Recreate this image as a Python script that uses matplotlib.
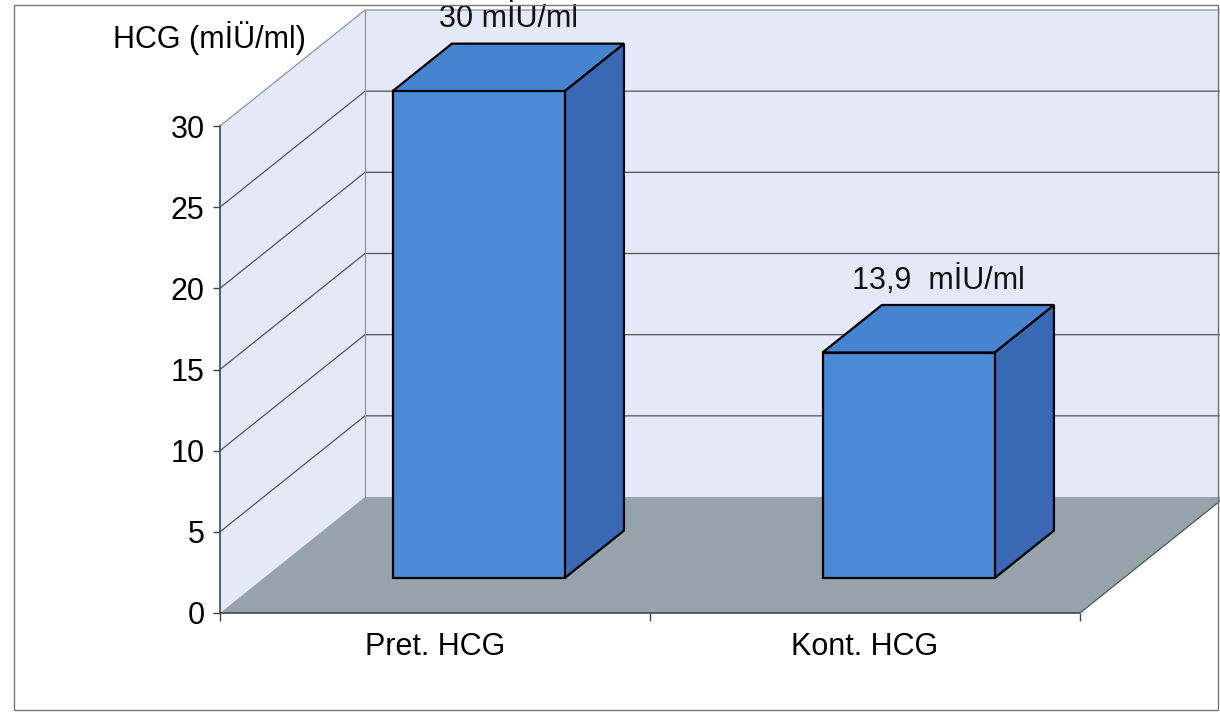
import matplotlib

matplotlib.use("Agg")
import matplotlib.pyplot as plt
from matplotlib.patches import Polygon, Rectangle

plt.rcParams["font.family"] = ["Liberation Sans", "DejaVu Sans"]

categories = ["Pret. HCG", "Kont. HCG"]
values = [30, 13.9]
value_labels = ["30 mİU/ml", "13,9  mİU/ml"]
y_ticks = [0, 5, 10, 15, 20, 25, 30]
y_title = "HCG (mİÜ/ml)"

W, H = 1220, 714
WALL = "#e5e9f7"
FLOOR = "#97a3ab"
GRID = "#50555c"
BAR_FRONT = "#4c8ad6"
BAR_TOP = "#4784d0"
BAR_SIDE = "#3a68b2"
FS = 22

# depth of the box in data units (categories on x, value on y)
DX = 145 / 430
DY = 116 / (487 / 30)
D0, D1 = 0.30, 0.71
BAR_W = 0.4


def proj(x, v, d):
    return (x + d * DX, v + d * DY)


fig = plt.figure(figsize=(W / 100, H / 100), dpi=100)
ax = fig.add_axes([220 / W, 101 / H, 860 / W, 487 / H])
n = len(categories)
top = y_ticks[-1]
ax.set_xlim(0, n)
ax.set_ylim(0, top)


def face(pts, fc, ec="none", lw=0, z=1):
    ax.add_patch(Polygon([proj(*p) for p in pts], closed=True, fc=fc, ec=ec,
                         lw=lw, zorder=z, clip_on=False, joinstyle="miter"))


def line(pts, color=GRID, lw=0.9, z=2):
    xs, ys = zip(*[proj(*p) for p in pts])
    ax.plot(xs, ys, color=color, lw=lw, zorder=z, clip_on=False,
            solid_capstyle="butt")


# walls and floor
face([(0, 0, 1), (n, 0, 1), (n + 1, top, 1), (0, top, 1)], WALL)
face([(0, 0, 0), (0, 0, 1), (0, top, 1), (0, top, 0)], WALL)
face([(0, 0, 0), (n, 0, 0), (n, 0, 1), (0, 0, 1)], FLOOR)

for v in y_ticks[1:]:
    c = "#8a93a3" if v == top else GRID
    line([(0, v, 0), (0, v, 1), (n + 1, v, 1)], color=c)
line([(0, 0, 1), (0, top, 1)], color="#8a93a3")
line([(n, 0, 0), (n, 0, 1)], color=GRID)
line([(0, 0, 0), (n, 0, 0)], color="#444444", lw=1.2)

# 3-D bars
for i, v in enumerate(values):
    xl, xr = i + 0.5 - BAR_W / 2, i + 0.5 + BAR_W / 2
    face([(xr, 0, D0), (xr, 0, D1), (xr, v, D1), (xr, v, D0)], BAR_SIDE, "black", 1.6, 5)
    face([(xl, v, D0), (xr, v, D0), (xr, v, D1), (xl, v, D1)], BAR_TOP, "black", 1.6, 5)
    face([(xl, 0, D0), (xr, 0, D0), (xr, v, D0), (xl, v, D0)], BAR_FRONT, "black", 1.6, 6)
    ax.annotate(value_labels[i], proj(i + 0.5, v, (D0 + D1) / 2),
                xytext=(0, 48), textcoords="offset pixels", ha="center", va="center",
                fontsize=FS, color="#111111", annotation_clip=False, zorder=8)

for s in ["top", "right", "bottom"]:
    ax.spines[s].set_visible(False)
ax.spines["left"].set_color("#444444")
ax.spines["left"].set_linewidth(1.2)
ax.set_facecolor("none")

ax.set_yticks(y_ticks)
ax.tick_params(axis="y", length=5, width=1, color="#444444", pad=6, labelsize=FS)
ax.set_xticks(range(n + 1))
ax.set_xticklabels([])
ax.set_xticks([i + 0.5 for i in range(n)], minor=True)
ax.set_xticklabels(categories, minor=True)
ax.tick_params(axis="x", which="major", length=6, width=1, color="#444444")
ax.tick_params(axis="x", which="minor", length=0, pad=14, labelsize=FS)

fig.text(209 / W, 1 - 38 / H, y_title, ha="center", va="center", fontsize=FS)

fig.patches.append(Rectangle((14 / W, 4 / H), 1204 / W, 705 / H, transform=fig.transFigure,
                             fill=False, ec="#777777", lw=1))

fig.savefig("out.png", dpi=100)
